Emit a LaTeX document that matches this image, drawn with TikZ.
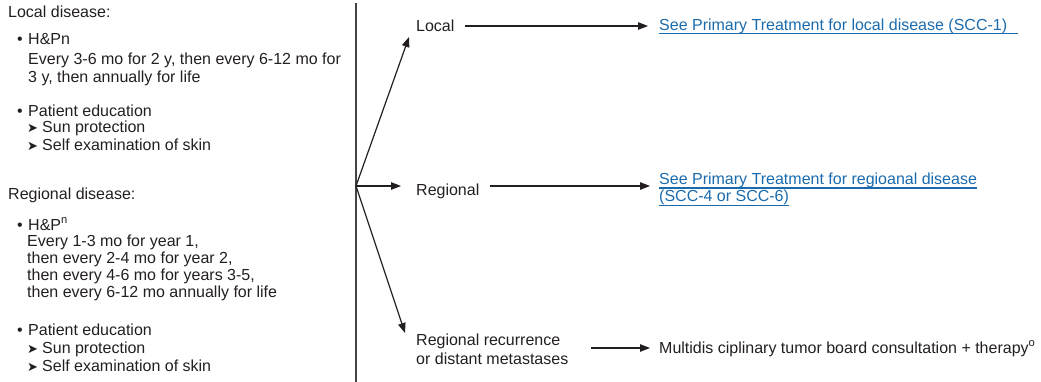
\documentclass[tikz,border=0pt]{standalone}
\usepackage{fontspec}
\setmainfont{Liberation Sans}
\newfontfamily\dejavu{DejaVu Sans}
\usetikzlibrary{arrows.meta}
\definecolor{ink}{HTML}{231F20}
\definecolor{linkc}{HTML}{1A6BAE}
\definecolor{rulec}{HTML}{444444}
\tikzset{
  txt/.style={anchor=base west, inner sep=0pt, text=ink, font=\fontsize{16}{19}\selectfont},
  lnk/.style={txt, text=linkc},
  chev/.style={anchor=base west, inner sep=0pt, text=ink, font=\dejavu\fontsize{13}{15}\selectfont},
  arr/.style={draw=ink, line width=1.2pt, -{Triangle[length=10pt,width=7.5pt]}},
  uline/.style={draw=linkc, line width=1.3pt},
}
\begin{document}
\begin{tikzpicture}[x=1pt,y=-1pt]
\useasboundingbox (0,0) rectangle (1041,382);
% left column: local disease
\node[txt] (ld) at (8,18) {Local disease:};
\node[txt] (b1) at (17,45) {•};
\node[txt] (hp1) at (28,45) {H\&Pn};
\node[txt] (e1) at (28,65) {Every 3-6 mo for 2 y, then every 6-12 mo for};
\node[txt] (e2) at (28,83) {3 y, then annually for life};
\node[txt] (b2) at (17,117) {•};
\node[txt] (pe1) at (28,117) {Patient education};
\node[chev] (c1) at (27,133) {➤};
\node[txt] (sp1) at (42,133) {Sun protection};
\node[chev] (c2) at (27,151) {➤};
\node[txt] (se1) at (42,151) {Self examination of skin};
% left column: regional disease
\node[txt] (rd) at (8,200) {Regional disease:};
\node[txt] (b3) at (17,230) {•};
\node[txt] (hp2) at (28,230) {H\&P\textsuperscript{n}};
\node[txt] (r1) at (27,247) {Every 1-3 mo for year 1,};
\node[txt] (r2) at (27,263) {then every 2-4 mo for year 2,};
\node[txt] (r3) at (27,280) {then every 4-6 mo for years 3-5,};
\node[txt] (r4) at (27,297) {then every 6-12 mo annually for life};
\node[txt] (b4) at (17,335) {•};
\node[txt] (pe2) at (28,335) {Patient education};
\node[chev] (c3) at (27,353) {➤};
\node[txt] (sp2) at (42,353) {Sun protection};
\node[chev] (c4) at (27,371) {➤};
\node[txt] (se2) at (42,371) {Self examination of skin};
% divider
\coordinate (vt) at (356,3);
\coordinate (vb) at (356,382);
\draw[draw=rulec, line width=1.4pt] (vt) -- (vb);
\coordinate (br) at (356,186);
% right side
\node[txt] (loc) at (416,32) {Local};
\node[txt] (reg) at (416,196) {Regional};
\node[txt] (rec1) at (416,345) {Regional recurrence};
\node[txt] (rec2) at (416,364) {or distant metastases};
\node[lnk] (l1) at (659,31) {See Primary Treatment for local disease (SCC-1)};
\node[lnk] (l2a) at (659,185) {See Primary Treatment for regioanal disease};
\node[lnk] (l2b) at (659,202) {(SCC-4 or SCC-6)};
\node[txt] (md) at (659,353) {Multidis ciplinary tumor board consultation + therapy\textsuperscript{o}};
\draw[uline] ([yshift=-2.5pt]l1.base west) -- ([xshift=11pt,yshift=-2.5pt]l1.base east);
\draw[uline] ([yshift=-3pt]l2a.base west) -- ([yshift=-3pt]l2a.base east);
\draw[uline] ([yshift=-3.5pt]l2b.base west) -- ([yshift=-3.5pt]l2b.base east);
% arrows
\draw[arr] (br) -- ([xshift=-7pt,yshift=-5pt]loc.base west);
\draw[arr] (br) -- ([xshift=-15pt,yshift=10pt]reg.base west);
\draw[arr] (br) -- ([xshift=-11pt,yshift=12pt]rec1.base west);
\draw[arr] ([xshift=10pt,yshift=6pt]loc.base east) -- ([xshift=-11pt,yshift=5pt]l1.base west);
\draw[arr] ([xshift=10pt,yshift=10pt]reg.base east) -- ([xshift=-9pt,yshift=-1pt]l2a.base west);
\draw[arr] ([xshift=23pt,yshift=16pt]rec2.base east) -- ([xshift=-9pt,yshift=5pt]md.base west);
\end{tikzpicture}
\end{document}
